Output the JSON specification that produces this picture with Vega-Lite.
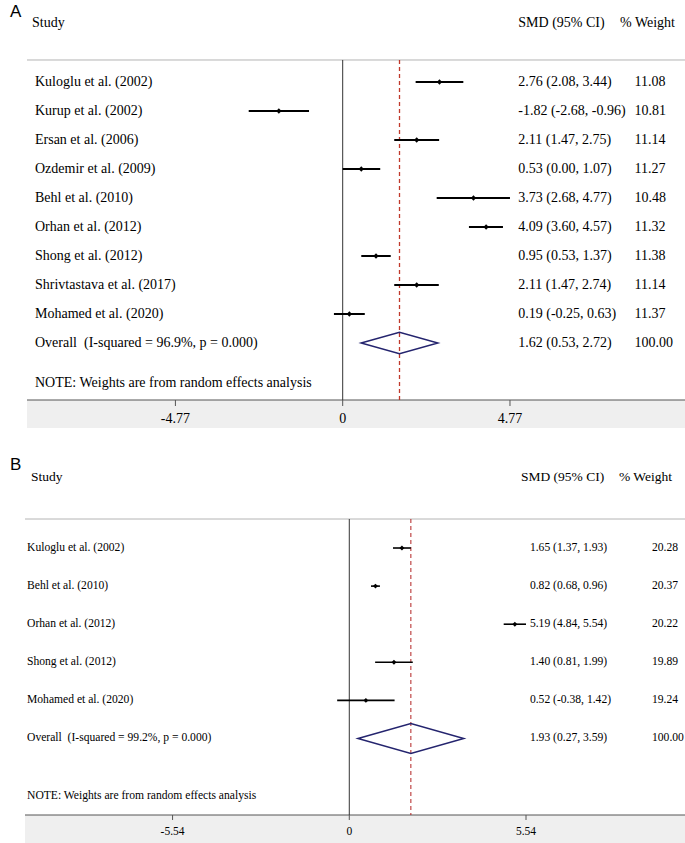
{
  "$schema": "https://vega.github.io/schema/vega-lite/v6.json",
  "padding": 0,
  "spacing": 40,
  "bounds": "flush",
  "background": "white",
  "config": {
    "view": {"stroke": null},
    "text": {"font": "Liberation Serif", "color": "#000000", "baseline": "middle", "align": "left"}
  },
  "datasets": {
    "A": [
      {"study": "Kuloglu et al. (2002)", "est": 2.76, "lo": 2.08, "hi": 3.44, "ci": "2.76 (2.08, 3.44)", "weight": "11.08", "row": 1, "kind": "study"},
      {"study": "Kurup et al. (2002)", "est": -1.82, "lo": -2.68, "hi": -0.96, "ci": "-1.82 (-2.68, -0.96)", "weight": "10.81", "row": 2, "kind": "study"},
      {"study": "Ersan et al. (2006)", "est": 2.11, "lo": 1.47, "hi": 2.75, "ci": "2.11 (1.47, 2.75)", "weight": "11.14", "row": 3, "kind": "study"},
      {"study": "Ozdemir et al. (2009)", "est": 0.53, "lo": 0.0, "hi": 1.07, "ci": "0.53 (0.00, 1.07)", "weight": "11.27", "row": 4, "kind": "study"},
      {"study": "Behl et al. (2010)", "est": 3.73, "lo": 2.68, "hi": 4.77, "ci": "3.73 (2.68, 4.77)", "weight": "10.48", "row": 5, "kind": "study"},
      {"study": "Orhan et al. (2012)", "est": 4.09, "lo": 3.6, "hi": 4.57, "ci": "4.09 (3.60, 4.57)", "weight": "11.32", "row": 6, "kind": "study"},
      {"study": "Shong et al. (2012)", "est": 0.95, "lo": 0.53, "hi": 1.37, "ci": "0.95 (0.53, 1.37)", "weight": "11.38", "row": 7, "kind": "study"},
      {"study": "Shrivtastava et al. (2017)", "est": 2.11, "lo": 1.47, "hi": 2.74, "ci": "2.11 (1.47, 2.74)", "weight": "11.14", "row": 8, "kind": "study"},
      {"study": "Mohamed et al. (2020)", "est": 0.19, "lo": -0.25, "hi": 0.63, "ci": "0.19 (-0.25, 0.63)", "weight": "11.37", "row": 9, "kind": "study"},
      {"study": "Overall\u00a0\u00a0(I-squared = 96.9%, p = 0.000)", "est": 1.62, "lo": 0.53, "hi": 2.72, "ci": "1.62 (0.53, 2.72)", "weight": "100.00", "row": 10, "kind": "overall"}
    ],
    "B": [
      {"study": "Kuloglu et al. (2002)", "est": 1.65, "lo": 1.37, "hi": 1.93, "ci": "1.65 (1.37, 1.93)", "weight": "20.28", "row": 1, "kind": "study"},
      {"study": "Behl et al. (2010)", "est": 0.82, "lo": 0.68, "hi": 0.96, "ci": "0.82 (0.68, 0.96)", "weight": "20.37", "row": 2, "kind": "study"},
      {"study": "Orhan et al. (2012)", "est": 5.19, "lo": 4.84, "hi": 5.54, "ci": "5.19 (4.84, 5.54)", "weight": "20.22", "row": 3, "kind": "study"},
      {"study": "Shong et al. (2012)", "est": 1.4, "lo": 0.81, "hi": 1.99, "ci": "1.40 (0.81, 1.99)", "weight": "19.89", "row": 4, "kind": "study"},
      {"study": "Mohamed et al. (2020)", "est": 0.52, "lo": -0.38, "hi": 1.42, "ci": "0.52 (-0.38, 1.42)", "weight": "19.24", "row": 5, "kind": "study"},
      {"study": "Overall\u00a0\u00a0(I-squared = 99.2%, p = 0.000)", "est": 1.93, "lo": 0.27, "hi": 3.59, "ci": "1.93 (0.27, 3.59)", "weight": "100.00", "row": 6, "kind": "overall"}
    ],
    "ticksA": [
      {"v": -4.77, "label": "-4.77"},
      {"v": 0, "label": "0"},
      {"v": 4.77, "label": "4.77"}
    ],
    "ticksB": [
      {"v": -5.54, "label": "-5.54"},
      {"v": 0, "label": "0"},
      {"v": 5.54, "label": "5.54"}
    ]
  },
  "vconcat": [
    {
      "width": 685,
      "height": 400,
      "data": {"name": "A"},
      "layer": [
        {
          "data": {"values": [{}]},
          "mark": {"type": "rect", "color": "#efefef"},
          "encoding": {
            "x": {"datum": -9.002, "type": "quantitative", "axis": null,
              "scale": {"domain": [-9.772, 9.761], "nice": false, "zero": false}},
            "x2": {"datum": 9.761},
            "y": {"datum": 11.966, "type": "quantitative", "axis": null,
              "scale": {"domain": [-1.828, 11.966], "reverse": true, "nice": false, "zero": false}},
            "y2": {"datum": 12.931}
          }
        },
        {
          "data": {"values": [{}]},
          "mark": {"type": "rule", "color": "#b4b4b4", "strokeWidth": 1},
          "encoding": {
            "x": {"datum": -9.002, "type": "quantitative", "axis": null},
            "x2": {"datum": 9.761},
            "y": {"datum": 0.241, "type": "quantitative", "axis": null}
          }
        },
        {
          "data": {"values": [{}]},
          "mark": {"type": "rule", "color": "#555555", "strokeWidth": 1},
          "encoding": {
            "x": {"datum": -9.002, "type": "quantitative", "axis": null},
            "x2": {"datum": 9.761},
            "y": {"datum": 11.966, "type": "quantitative", "axis": null}
          }
        },
        {
          "data": {"name": "ticksA"},
          "mark": {"type": "rule", "color": "#555555", "strokeWidth": 1},
          "encoding": {
            "x": {"field": "v", "type": "quantitative", "axis": null},
            "y": {"datum": 11.966, "type": "quantitative", "axis": null},
            "y2": {"datum": 12.173}
          }
        },
        {
          "data": {"name": "ticksA"},
          "mark": {"type": "text", "fontSize": 14, "align": "center"},
          "encoding": {
            "x": {"field": "v", "type": "quantitative", "axis": null},
            "y": {"datum": 12.621, "type": "quantitative", "axis": null},
            "text": {"field": "label"}
          }
        },
        {
          "data": {"values": [{}]},
          "mark": {"type": "rule", "color": "#333333", "strokeWidth": 1},
          "encoding": {
            "x": {"datum": 0, "type": "quantitative", "axis": null},
            "y": {"datum": 0.241, "type": "quantitative", "axis": null},
            "y2": {"datum": 11.966}
          }
        },
        {
          "transform": [{"filter": "datum.kind == 'overall'"}],
          "mark": {"type": "rule", "color": "#c0392b", "strokeWidth": 1.3, "strokeDash": [4, 3]},
          "encoding": {
            "x": {"field": "est", "type": "quantitative", "axis": null},
            "y": {"datum": 0.241, "type": "quantitative", "axis": null},
            "y2": {"datum": 11.966}
          }
        },
        {
          "transform": [{"filter": "datum.kind == 'study'"}],
          "mark": {"type": "rule", "color": "#000000", "strokeWidth": 2},
          "encoding": {
            "x": {"field": "lo", "type": "quantitative", "axis": null},
            "x2": {"field": "hi"},
            "y": {"field": "row", "type": "quantitative", "axis": null}
          }
        },
        {
          "transform": [{"filter": "datum.kind == 'study'"}],
          "mark": {"type": "point", "shape": "diamond", "filled": true, "color": "#000000", "size": 28, "opacity": 1},
          "encoding": {
            "x": {"field": "est", "type": "quantitative", "axis": null},
            "y": {"field": "row", "type": "quantitative", "axis": null}
          }
        },
        {
          "transform": [{"filter": "datum.kind == 'overall'"}],
          "mark": {"type": "point", "shape": "M-1,0L0,-0.282L1,0L0,0.282Z", "filled": false, "stroke": "#24246e", "strokeWidth": 1.5, "size": 5883, "opacity": 1},
          "encoding": {
            "x": {"field": "est", "type": "quantitative", "axis": null},
            "y": {"field": "row", "type": "quantitative", "axis": null}
          }
        },
        {
          "mark": {"type": "text", "fontSize": 14},
          "encoding": {
            "x": {"datum": -8.774, "type": "quantitative", "axis": null},
            "y": {"field": "row", "type": "quantitative", "axis": null},
            "text": {"field": "study"}
          }
        },
        {
          "mark": {"type": "text", "fontSize": 14},
          "encoding": {
            "x": {"datum": 5.007, "type": "quantitative", "axis": null},
            "y": {"field": "row", "type": "quantitative", "axis": null},
            "text": {"field": "ci"}
          }
        },
        {
          "mark": {"type": "text", "fontSize": 14},
          "encoding": {
            "x": {"datum": 8.32, "type": "quantitative", "axis": null},
            "y": {"field": "row", "type": "quantitative", "axis": null},
            "text": {"field": "weight"}
          }
        },
        {
          "data": {"values": [{}]},
          "mark": {"type": "text", "fontSize": 14},
          "encoding": {
            "x": {"datum": -8.86, "type": "quantitative", "axis": null},
            "y": {"datum": -1.034, "type": "quantitative", "axis": null},
            "text": {"value": "Study"}
          }
        },
        {
          "data": {"values": [{}]},
          "mark": {"type": "text", "fontSize": 14},
          "encoding": {
            "x": {"datum": 5.007, "type": "quantitative", "axis": null},
            "y": {"datum": -1.034, "type": "quantitative", "axis": null},
            "text": {"value": "SMD (95% CI)"}
          }
        },
        {
          "data": {"values": [{}]},
          "mark": {"type": "text", "fontSize": 14},
          "encoding": {
            "x": {"datum": 7.907, "type": "quantitative", "axis": null},
            "y": {"datum": -1.034, "type": "quantitative", "axis": null},
            "text": {"value": "% Weight"}
          }
        },
        {
          "data": {"values": [{}]},
          "mark": {"type": "text", "fontSize": 14},
          "encoding": {
            "x": {"datum": -8.774, "type": "quantitative", "axis": null},
            "y": {"datum": 11.379, "type": "quantitative", "axis": null},
            "text": {"value": "NOTE: Weights are from random effects analysis"}
          }
        },
        {
          "data": {"values": [{}]},
          "mark": {"type": "text", "fontSize": 17, "font": "Liberation Sans"},
          "encoding": {
            "x": {"datum": -9.487, "type": "quantitative", "axis": null},
            "y": {"datum": -1.414, "type": "quantitative", "axis": null},
            "text": {"value": "A"}
          }
        }
      ]
    },
    {
      "width": 685,
      "height": 375,
      "data": {"name": "B"},
      "layer": [
        {
          "data": {"values": [{}]},
          "mark": {"type": "rect", "color": "#efefef"},
          "encoding": {
            "x": {"datum": -10.166, "type": "quantitative", "axis": null,
              "scale": {"domain": [-10.95, 10.524], "nice": false, "zero": false}},
            "x2": {"datum": 10.524},
            "y": {"datum": 8.008, "type": "quantitative", "axis": null,
              "scale": {"domain": [-1.835, 8.008], "reverse": true, "nice": false, "zero": false}},
            "y2": {"datum": 8.743}
          }
        },
        {
          "data": {"values": [{}]},
          "mark": {"type": "rule", "color": "#b4b4b4", "strokeWidth": 1},
          "encoding": {
            "x": {"datum": -10.166, "type": "quantitative", "axis": null},
            "x2": {"datum": 10.524},
            "y": {"datum": 0.239, "type": "quantitative", "axis": null}
          }
        },
        {
          "data": {"values": [{}]},
          "mark": {"type": "rule", "color": "#555555", "strokeWidth": 1},
          "encoding": {
            "x": {"datum": -10.166, "type": "quantitative", "axis": null},
            "x2": {"datum": 10.524},
            "y": {"datum": 8.008, "type": "quantitative", "axis": null}
          }
        },
        {
          "data": {"name": "ticksB"},
          "mark": {"type": "rule", "color": "#555555", "strokeWidth": 1},
          "encoding": {
            "x": {"field": "v", "type": "quantitative", "axis": null},
            "y": {"datum": 8.008, "type": "quantitative", "axis": null},
            "y2": {"datum": 8.139}
          }
        },
        {
          "data": {"name": "ticksB"},
          "mark": {"type": "text", "fontSize": 11.5, "align": "center"},
          "encoding": {
            "x": {"field": "v", "type": "quantitative", "axis": null},
            "y": {"datum": 8.454, "type": "quantitative", "axis": null},
            "text": {"field": "label"}
          }
        },
        {
          "data": {"values": [{}]},
          "mark": {"type": "rule", "color": "#333333", "strokeWidth": 1},
          "encoding": {
            "x": {"datum": 0, "type": "quantitative", "axis": null},
            "y": {"datum": 0.239, "type": "quantitative", "axis": null},
            "y2": {"datum": 8.008}
          }
        },
        {
          "transform": [{"filter": "datum.kind == 'overall'"}],
          "mark": {"type": "rule", "color": "#b22222", "strokeWidth": 1, "strokeDash": [4, 3]},
          "encoding": {
            "x": {"field": "est", "type": "quantitative", "axis": null},
            "y": {"datum": 0.239, "type": "quantitative", "axis": null},
            "y2": {"datum": 8.008}
          }
        },
        {
          "transform": [{"filter": "datum.kind == 'study'"}],
          "mark": {"type": "rule", "color": "#000000", "strokeWidth": 1.6},
          "encoding": {
            "x": {"field": "lo", "type": "quantitative", "axis": null},
            "x2": {"field": "hi"},
            "y": {"field": "row", "type": "quantitative", "axis": null}
          }
        },
        {
          "transform": [{"filter": "datum.kind == 'study'"}],
          "mark": {"type": "point", "shape": "diamond", "filled": true, "color": "#000000", "size": 24, "opacity": 1},
          "encoding": {
            "x": {"field": "est", "type": "quantitative", "axis": null},
            "y": {"field": "row", "type": "quantitative", "axis": null}
          }
        },
        {
          "transform": [{"filter": "datum.kind == 'overall'"}],
          "mark": {"type": "point", "shape": "M-1,0L0,-0.281L1,0L0,0.281Z", "filled": false, "stroke": "#24246e", "strokeWidth": 1.5, "size": 11172, "opacity": 1},
          "encoding": {
            "x": {"field": "est", "type": "quantitative", "axis": null},
            "y": {"field": "row", "type": "quantitative", "axis": null}
          }
        },
        {
          "mark": {"type": "text", "fontSize": 11.6},
          "encoding": {
            "x": {"datum": -10.103, "type": "quantitative", "axis": null},
            "y": {"field": "row", "type": "quantitative", "axis": null},
            "text": {"field": "study"}
          }
        },
        {
          "mark": {"type": "text", "fontSize": 11.6},
          "encoding": {
            "x": {"datum": 5.662, "type": "quantitative", "axis": null},
            "y": {"field": "row", "type": "quantitative", "axis": null},
            "text": {"field": "ci"}
          }
        },
        {
          "mark": {"type": "text", "fontSize": 11.6},
          "encoding": {
            "x": {"datum": 9.489, "type": "quantitative", "axis": null},
            "y": {"field": "row", "type": "quantitative", "axis": null},
            "text": {"field": "weight"}
          }
        },
        {
          "data": {"values": [{}]},
          "mark": {"type": "text", "fontSize": 13.5},
          "encoding": {
            "x": {"datum": 5.382, "type": "quantitative", "axis": null},
            "y": {"datum": -0.864, "type": "quantitative", "axis": null},
            "text": {"value": "SMD (95% CI)"}
          }
        },
        {
          "data": {"values": [{}]},
          "mark": {"type": "text", "fontSize": 13.5},
          "encoding": {
            "x": {"datum": -9.978, "type": "quantitative", "axis": null},
            "y": {"datum": -0.864, "type": "quantitative", "axis": null},
            "text": {"value": "Study"}
          }
        },
        {
          "data": {"values": [{}]},
          "mark": {"type": "text", "fontSize": 13.5},
          "encoding": {
            "x": {"datum": 8.454, "type": "quantitative", "axis": null},
            "y": {"datum": -0.864, "type": "quantitative", "axis": null},
            "text": {"value": "% Weight"}
          }
        },
        {
          "data": {"values": [{}]},
          "mark": {"type": "text", "fontSize": 11.6},
          "encoding": {
            "x": {"datum": -10.103, "type": "quantitative", "axis": null},
            "y": {"datum": 7.509, "type": "quantitative", "axis": null},
            "text": {"value": "NOTE: Weights are from random effects analysis"}
          }
        },
        {
          "data": {"values": [{}]},
          "mark": {"type": "text", "fontSize": 17, "font": "Liberation Sans"},
          "encoding": {
            "x": {"datum": -10.636, "type": "quantitative", "axis": null},
            "y": {"datum": -1.178, "type": "quantitative", "axis": null},
            "text": {"value": "B"}
          }
        }
      ]
    }
  ]
}
